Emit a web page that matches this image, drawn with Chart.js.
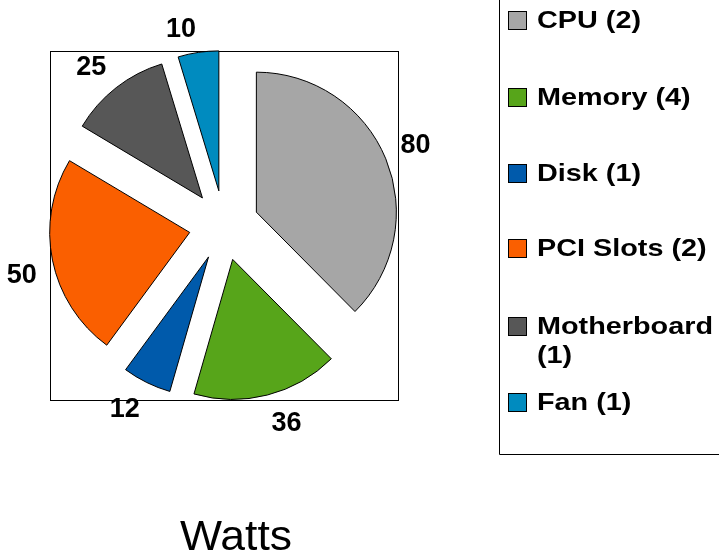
<!DOCTYPE html>
<html>
<head>
<meta charset="utf-8">
<script src="https://cdn.jsdelivr.net/npm/chart.js@4/dist/chart.umd.min.js"></script>
<style>
  html, body { margin: 0; padding: 0; background: #fff; }
  #wrap { width: 719px; height: 558px; position: relative; }
</style>
</head>
<body>
<div id="wrap"><canvas id="pieCanvas"></canvas></div>
<script>
// data
const parts = ['CPU', 'Memory', 'Disk', 'PCI Slots', 'Motherboard', 'Fan'];
const watts = [80, 36, 12, 50, 25, 10];
const counts = [2, 4, 1, 2, 1, 1];
const sliceColors = ['#a6a6a6', '#57a51a', '#005aab', '#fa5f00', '#575757', '#008bbf'];
const chartTitle = 'Watts';

const explode = 35;     // how far every slice is pulled out
const labelDist = 191;  // value labels: corner of the text sits this far from the centre

// pull every slice out along its middle angle (Chart.js' own offset also grows the radius)
const explodePlugin = {
  id: 'explode',
  afterDatasetUpdate(chart, args) {
    const meta = chart.getDatasetMeta(args.index);
    meta.data.forEach(arc => {
      const mid = (arc.startAngle + arc.endAngle) / 2;
      arc.x += Math.cos(mid) * explode;
      arc.y += Math.sin(mid) * explode;
    });
  }
};

// box around the plot area + value labels outside each slice
const framePlugin = {
  id: 'frame',
  beforeDatasetsDraw(chart) {
    const {ctx, chartArea} = chart;
    ctx.save();
    ctx.strokeStyle = '#000';
    ctx.lineWidth = 1;
    ctx.strokeRect(Math.round(chartArea.left) + 0.5, Math.round(chartArea.top) + 0.5,
      Math.round(chartArea.width), Math.round(chartArea.height));
    ctx.restore();
  },
  afterDatasetsDraw(chart) {
    const {ctx, chartArea} = chart;
    const cx = (chartArea.left + chartArea.right) / 2;
    const cy = (chartArea.top + chartArea.bottom) / 2;
    const meta = chart.getDatasetMeta(0);
    ctx.save();
    ctx.fillStyle = '#000';
    ctx.font = 'bold 27px "Liberation Sans", Arial, sans-serif';
    ctx.textBaseline = 'alphabetic';
    meta.data.forEach((arc, i) => {
      const mid = (arc.startAngle + arc.endAngle) / 2;
      const px = cx + Math.cos(mid) * labelDist;
      const py = cy + Math.sin(mid) * labelDist;
      ctx.textAlign = Math.cos(mid) >= 0 ? 'left' : 'right';
      const baseY = Math.sin(mid) > 0 ? py + 20 : py;
      ctx.fillText(String(watts[i]), px, baseY);
    });
    ctx.restore();
  }
};

// legend box on the right, text wraps like the original
const legendPlugin = {
  id: 'sideLegend',
  afterDraw(chart) {
    const {ctx} = chart;
    const stretch = 1.2;
    const boxX = 508, boxSize = 19, textX = 537, maxW = 719 - textX;
    const tops = [11, 88, 164, 239, 317, 393];
    ctx.save();
    ctx.strokeStyle = '#000';
    ctx.lineWidth = 1;
    ctx.beginPath();
    ctx.moveTo(499.5, -1);
    ctx.lineTo(499.5, 454.5);
    ctx.lineTo(725, 454.5);
    ctx.stroke();
    ctx.font = 'bold 24px "Liberation Sans", Arial, sans-serif';
    ctx.textBaseline = 'middle';
    parts.forEach((p, i) => {
      const y = tops[i];
      ctx.fillStyle = sliceColors[i];
      ctx.fillRect(boxX, y, boxSize, boxSize);
      ctx.strokeStyle = '#000';
      ctx.strokeRect(boxX + 0.5, y + 0.5, boxSize - 1, boxSize - 1);
      ctx.fillStyle = '#000';
      const text = p + ' (' + counts[i] + ')';
      let lines = [text];
      if (ctx.measureText(text).width * stretch > maxW) {
        const cut = text.lastIndexOf(' ');
        lines = [text.slice(0, cut), text.slice(cut + 1)];
      }
      lines.forEach((ln, k) => {
        ctx.save();
        ctx.translate(textX, y + boxSize / 2 + 1 + k * 29);
        ctx.scale(stretch, 1);
        ctx.fillText(ln, 0, 0);
        ctx.restore();
      });
    });
    ctx.fillStyle = '#000';
    ctx.font = '42px "Liberation Sans", Arial, sans-serif';
    ctx.textAlign = 'center';
    ctx.save();
    ctx.translate(236, 538);
    ctx.scale(1.06, 1);
    ctx.fillText(chartTitle, 0, 0);
    ctx.restore();
    ctx.restore();
  }
};

new Chart(document.getElementById('pieCanvas'), {
  type: 'pie',
  data: {
    labels: parts,
    datasets: [{
      data: watts,
      backgroundColor: sliceColors,
      borderColor: '#000',
      borderWidth: 1,
      clip: false
    }]
  },
  options: {
    responsive: true,
    maintainAspectRatio: false,
    animation: false,
    radius: 140,
    layout: { padding: { left: 50, top: 51, right: 321, bottom: 158 } },
    plugins: {
      legend: { display: false },
      tooltip: { enabled: false }
    }
  },
  plugins: [explodePlugin, framePlugin, legendPlugin]
});
</script>
</body>
</html>
